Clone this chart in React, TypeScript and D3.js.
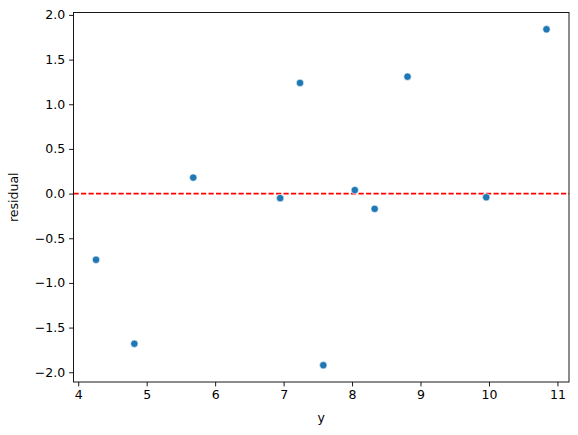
import { useRef, useEffect } from 'react';
import * as d3 from 'd3';

// Anscombe set I: observed y and residual from the linear fit
const yValues = [8.04, 6.95, 7.58, 8.81, 8.33, 9.96, 7.24, 4.26, 10.84, 4.82, 5.68];
const residuals = [0.039, -0.051, -1.921, 1.309, -0.171, -0.041, 1.239, -0.741, 1.839, -1.681, 0.179];
const xTicks = [4, 5, 6, 7, 8, 9, 10, 11];
const yTicks = [-2.0, -1.5, -1.0, -0.5, 0.0, 0.5, 1.0, 1.5, 2.0];

const W = 578;
const H = 435;
const margin = { top: 12.5, right: 9, bottom: 53, left: 73.5 };
const FONT = 'DejaVu Sans, sans-serif';

const padDomain = (vals: number[]) => {
  const [lo, hi] = d3.extent(vals) as [number, number];
  const p = (hi - lo) * 0.05;
  return [lo - p, hi + p];
};

export default function App() {
  const svgRef = useRef<SVGSVGElement>(null);

  useEffect(() => {
    const svg = d3.select(svgRef.current);
    svg.selectAll('*').remove();

    const innerW = W - margin.left - margin.right;
    const innerH = H - margin.top - margin.bottom;

    const x = d3.scaleLinear().domain(padDomain(yValues)).range([0, innerW]);
    const y = d3.scaleLinear().domain(padDomain(residuals)).range([innerH, 0]);

    const g = svg.append('g').attr('transform', `translate(${margin.left},${margin.top})`);

    // zero reference line
    g.append('line')
      .attr('x1', 0)
      .attr('x2', innerW)
      .attr('y1', y(0))
      .attr('y2', y(0))
      .attr('stroke', '#ff0000')
      .attr('stroke-width', 1.8)
      .attr('stroke-dasharray', '5.2,2.3');

    // points
    g.selectAll('circle')
      .data(yValues)
      .join('circle')
      .attr('cx', (d) => x(d))
      .attr('cy', (_d, i) => y(residuals[i]))
      .attr('r', 3.7)
      .attr('fill', '#1f77b4')
      .attr('stroke', '#ffffff')
      .attr('stroke-width', 0.6);

    // axes
    const xAxis = g.append('g')
      .attr('transform', `translate(0,${innerH})`)
      .call(d3.axisBottom(x).tickValues(xTicks).tickFormat(d3.format('d')).tickSize(4.4).tickPadding(4));
    const yAxis = g.append('g')
      .call(d3.axisLeft(y).tickValues(yTicks).tickFormat(d3.format('.1f')).tickSize(4.4).tickPadding(4));

    [xAxis, yAxis].forEach((a) => {
      a.select('.domain').remove();
      a.selectAll('.tick line').attr('stroke', '#000').attr('stroke-width', 0.9);
      a.selectAll('text')
        .attr('font-family', FONT)
        .attr('font-size', 12.5)
        .attr('fill', '#000');
    });

    // frame
    g.append('rect')
      .attr('width', innerW)
      .attr('height', innerH)
      .attr('fill', 'none')
      .attr('stroke', '#000')
      .attr('stroke-width', 0.9);

    // labels
    g.append('text')
      .attr('x', innerW / 2)
      .attr('y', innerH + 40)
      .attr('text-anchor', 'middle')
      .attr('font-family', FONT)
      .attr('font-size', 12.5)
      .text('y');

    g.append('text')
      .attr('transform', `translate(${-56},${innerH / 2}) rotate(-90)`)
      .attr('text-anchor', 'middle')
      .attr('font-family', FONT)
      .attr('font-size', 12.5)
      .text('residual');
  }, []);

  return (
    <svg
      ref={svgRef}
      width={W}
      height={H}
      style={{ position: 'absolute', left: 0, top: 0, background: '#fff' }}
    />
  );
}
